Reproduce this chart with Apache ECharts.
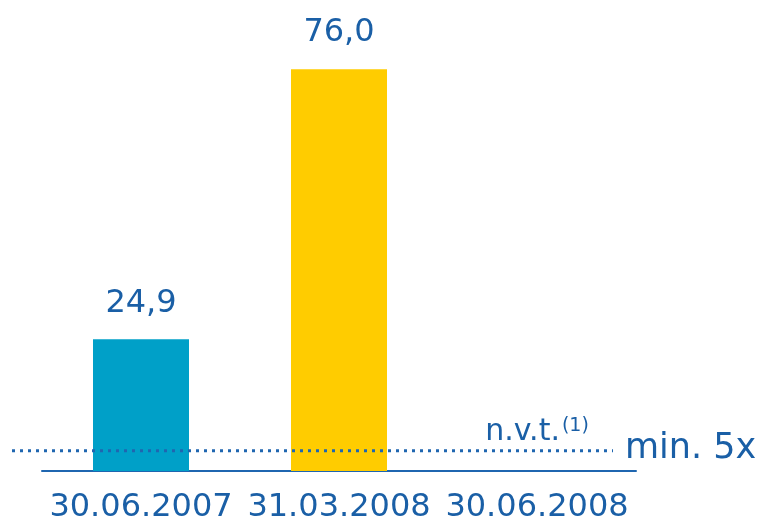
<!DOCTYPE html>
<html>
<head>
<meta charset="utf-8">
<script src="https://cdn.jsdelivr.net/npm/echarts@6/dist/echarts.min.js"></script>
<style>html,body{margin:0;padding:0;background:#fff}#c{width:774px;height:524px}</style>
</head>
<body>
<div id="c"></div>
<script>
var categories = ['30.06.2007', '31.03.2008', '30.06.2008'];
var values = [24.9, 76.0, 0];
var notApplicable = [false, false, true];
var barColors = ['#00A0C8', '#FFCC00', '#00A0C8'];
var minLevel = 4;
var minLabel = 'min. 5x';
var naText = 'n.v.t.';
var naNote = '(1)';

var textColor = '#1A5FA6';
var font = 'DejaVu Sans';

var barData = values.map(function (v, i) {
  var item = { value: v, itemStyle: { color: barColors[i] } };
  if (notApplicable[i]) {
    item.label = {
      formatter: '{a|' + naText + '}{b|' + naNote + '}',
      distance: 24,
      rich: {
        a: { fontSize: 30, fontFamily: font, color: textColor },
        b: { fontSize: 19, fontFamily: font, color: textColor, verticalAlign: 'top', padding: [0, 0, 0, 2] }
      }
    };
  }
  return item;
});

var chart = echarts.init(document.getElementById('c'));
chart.setOption({
  animation: false,
  grid: [
    { left: 42, right: 138, top: 48, bottom: 52 },
    { left: 12, right: 161, top: 48, bottom: 52 }
  ],
  xAxis: [
    {
      type: 'category', data: categories, gridIndex: 0,
      axisLine: { show: true, lineStyle: { color: '#1F66B0', width: 2 } },
      axisTick: { show: false },
      axisLabel: { fontSize: 32, fontFamily: font, color: textColor, margin: 21, interval: 0 }
    },
    { type: 'value', gridIndex: 1, min: 0, max: 1, show: false }
  ],
  yAxis: [
    { type: 'value', gridIndex: 0, min: 0, max: 80, show: false },
    { type: 'value', gridIndex: 1, min: 0, max: 80, show: false }
  ],
  series: [
    {
      type: 'bar', xAxisIndex: 0, yAxisIndex: 0, barWidth: 96,
      data: barData,
      label: {
        show: true, position: 'top', distance: 20,
        fontSize: 32, fontFamily: font, color: textColor,
        formatter: function (p) { return p.value.toFixed(1).replace('.', ','); }
      }
    },
    {
      type: 'line', xAxisIndex: 1, yAxisIndex: 1, symbol: 'none', z: 5,
      data: [[0, minLevel], [1, minLevel]],
      lineStyle: { color: '#1F66B0', width: 3, type: [3, 5], cap: 'butt' },
      endLabel: { show: true, formatter: minLabel, fontSize: 35, fontFamily: font, color: textColor, distance: 12, offset: [0, -2] }
    }
  ]
});
</script>
</body>
</html>
